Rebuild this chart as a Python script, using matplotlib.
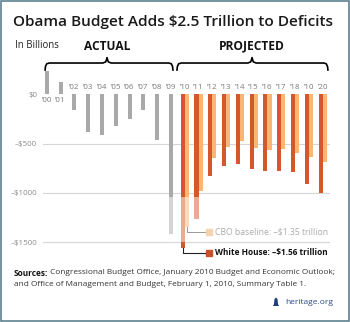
import matplotlib
matplotlib.use("Agg")
import matplotlib.pyplot as plt
from matplotlib.patches import Rectangle, Polygon

# Deficits in billions of dollars
actual_years = ["’00", "’01", "’02", "’03", "’04", "’05", "’06", "’07", "’08", "’09"]
actual_vals = [236, 128, -158, -378, -413, -318, -248, -161, -459, -1413]
proj_years = ["’10", "’11", "’12", "’13", "’14", "’15", "’16", "’17", "’18", "’10", "’20"]
white_house = [-1556, -1267, -828, -727, -706, -752, -778, -778, -785, -908, -1003]
cbo_baseline = [-1349, -980, -650, -539, -475, -544, -566, -553, -590, -640, -683]
grid_vals = [0, -500, -1000, -1500]
grid_labels = ["$0", "–$500", "–$1000", "–$1500"]

GRAY = "#a9a9a9"
DARK = "#d4582b"
LIGHT = "#f9b675"
W, H = 350, 322

plt.rcParams['font.family'] = ['Open Sans', 'DejaVu Sans']
fig = plt.figure(figsize=(W / 100, H / 100), dpi=100)
fig.patch.set_facecolor("white")

# axes placed in pixel terms: x 43..330, y 52.85..260
ax = fig.add_axes([43 / W, 1 - 260 / H, 287 / W, 207.15 / H])
ax.set_xlim(-0.27, 20.53)
ax.set_ylim(-1679, 420)
for s in ax.spines.values():
    s.set_visible(False)
ax.set_xticks([])
ax.set_yticks(grid_vals)
ax.set_yticklabels(grid_labels, fontsize=5.8, color="#8c8c8c")
ax.tick_params(axis="y", length=0, pad=4.3)

for g in grid_vals[1:]:
    ax.axhline(g, color="#d6d6d6", lw=0.8, zorder=0)

n_act = len(actual_vals)
xa = list(range(n_act))
ax.bar(xa, actual_vals, width=0.29, color=GRAY, zorder=2)
xp = [n_act + i for i in range(len(white_house))]
ax.bar([x - 0.15 for x in xp], white_house, width=0.3, color=DARK, zorder=2)
ax.bar([x + 0.15 for x in xp], cbo_baseline, width=0.3, color=LIGHT, zorder=2)

# year labels
for x, lab, v in zip(xa, actual_years, actual_vals):
    ax.text(x, -58 if v > 0 else 72, lab, ha="center", va="center",
            fontsize=5.8, color="#7a7a7a")
for x, lab in zip(xp, proj_years):
    ax.text(x, 72, lab, ha="center", va="center", fontsize=5.8, color="#7a7a7a")

# watermark-like light band over the deep bars
ax.add_patch(Rectangle((8.6, -1495), 2.9, 455, facecolor="white", alpha=0.5,
                       edgecolor="none", zorder=2.5))


def brace(x0, x1, xm):
    yh, ye, yt, d = 317, 246, 372, 0.3
    xs = [x0, x0 + d * 0.1, x0 + d * 0.4, x0 + d, xm - d, xm - d * 0.3, xm,
          xm + d * 0.3, xm + d, x1 - d, x1 - d * 0.4, x1 - d * 0.1, x1]
    ys = [ye, yh - 35, yh - 8, yh, yh, yh + 12, yt,
          yh + 12, yh, yh, yh - 8, yh - 35, ye]
    ax.plot(xs, ys, color="black", lw=1.2, clip_on=False, solid_joinstyle="round")


brace(-0.12, 9.15, 4.37)
brace(9.44, 20.38, 14.88)

# leaders to callouts
x_end = 11.47
ax.plot([xp[0] + 0.15, xp[0] + 0.15, x_end], [cbo_baseline[0], -1392, -1392],
        color="#9a9a9a", lw=0.7, zorder=3)
ax.plot([xp[0] - 0.15, xp[0] - 0.15, x_end], [white_house[0], -1605, -1605],
        color="#222222", lw=0.8, zorder=3, clip_on=False)
ax.plot([11.73], [-1392], marker="s", ms=4, color="#f6d3b0", clip_on=False)
ax.plot([11.73], [-1605], marker="s", ms=4, color="#c8512a", clip_on=False)
cbo_txt = ax.text(12.2, -1392, "CBO baseline: –$1.35 trillion", ha="left",
                  va="center", fontsize=7, color="#ababab", clip_on=False)
wh_txt = ax.text(12.2, -1605, "White House: –$1.56 trillion", ha="left",
                 va="center", fontsize=7, color="#111111", fontweight="bold",
                 clip_on=False)

renderer = fig.canvas.get_renderer()


def fit(t, width_px):
    for _ in range(3):
        bb = t.get_window_extent(renderer)
        t.set_fontsize(t.get_fontsize() * width_px / bb.width)


fit(cbo_txt, 113)
fit(wh_txt, 113)

title = fig.text(13 / W, 1 - 22 / H, "Obama Budget Adds $2.5 Trillion to Deficits",
                 ha="left", va="center", fontsize=12, fontweight="semibold",
                 color="#1a1a1a")
fit(title, 320)

inb = fig.text(15 / W, 1 - 45 / H, "In Billions", ha="left", va="center",
               fontsize=7, color="#222222")
fit(inb, 43)
proj = fig.text(252 / W, 1 - 46 / H, "PROJECTED", ha="center",
                va="center", fontsize=7, fontweight="bold", color="#111111")
fit(proj, 66)
act = fig.text(107 / W, 1 - 46 / H, "ACTUAL", ha="center",
               va="center", fontsize=proj.get_fontsize(), fontweight="bold",
               color="#111111")

src_b = fig.text(14 / W, 1 - 273 / H, "Sources:", ha="left", va="center",
                 fontsize=6.5, fontweight="bold", color="#111111")
src_1 = fig.text(0, 1 - 273 / H,
                 " Congressional Budget Office, January 2010 Budget and Economic Outlook;",
                 ha="left", va="center", fontsize=6.5, color="#333333")
src_2 = fig.text(14 / W, 1 - 284 / H,
                 "and Office of Management and Budget, February 1, 2010, Summary Table 1.",
                 ha="left", va="center", fontsize=6.5, color="#333333")
for _ in range(3):
    wb = src_b.get_window_extent(renderer).width
    w1 = src_1.get_window_extent(renderer).width
    k = 319 / (wb + w1)
    for t in (src_b, src_1, src_2):
        t.set_fontsize(t.get_fontsize() * k)
wb = src_b.get_window_extent(renderer).width
src_1.set_x((14 + wb) / W)

her = fig.text(333 / W, 1 - 302 / H, "heritage.org", ha="right", va="center",
               fontsize=7.5, color="#2a4a8a")
fit(her, 48)

# small bell mark
bell = [(273, 306), (279, 306), (278, 304), (277.5, 299), (276, 297.5),
        (274.5, 299), (274, 304)]
fig.patches.append(Polygon([(x / W, 1 - y / H) for x, y in bell], closed=True,
                           facecolor="#1f3c7a", edgecolor="none",
                           transform=fig.transFigure, figure=fig))

fig.patches.append(Rectangle((0.002, 0.003), 0.996, 0.994, fill=False,
                             edgecolor="#5d8290", lw=1.2,
                             transform=fig.transFigure, figure=fig))

fig.savefig("out.png", dpi=100)
